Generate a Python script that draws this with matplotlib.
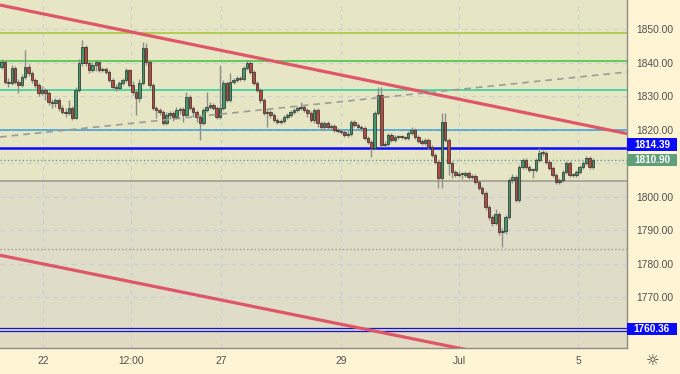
import matplotlib
matplotlib.use('Agg')
import matplotlib.pyplot as plt
from matplotlib.patches import Rectangle
from matplotlib.transforms import blended_transform_factory

# Données (XAU/USD, bougies)
first_open = 1838.7
closes = [
    1840.1, 1834.2, 1833.9, 1838.4, 1834.2, 1833.3, 1835.7, 1838.7, 1836.9, 1834.8,
    1833.3, 1830.9, 1831.8, 1830.9, 1828.2, 1827.9, 1828.8, 1826.4, 1825.2, 1824.9,
    1826.4, 1823.4, 1831.8, 1839.9, 1844.6, 1839.9, 1837.8, 1839.3, 1840.1, 1837.8,
    1838.1,
    1837.2, 1834.8, 1832.7, 1832.4, 1833.9, 1834.8, 1837.8, 1833.3, 1831.2, 1829.4,
    1833.9, 1844.3, 1840.1, 1833.3, 1826.4, 1825.8, 1825.2, 1821.9, 1824.3, 1824.9,
    1823.7, 1825.8, 1826.1, 1824.3, 1829.7, 1826.4, 1825.2, 1823.7, 1821.9, 1825.8,
    1826.7,
    1827.3, 1826.4, 1823.7, 1826.4, 1833.9, 1828.8, 1834.2, 1834.8, 1835.4, 1835.1,
    1838.4, 1839.9, 1837.2, 1833.9, 1831.8, 1828.8, 1824.9, 1825.2, 1824.3, 1822.8,
    1822.2, 1822.5, 1823.7, 1824.3, 1825.2, 1825.8, 1826.4, 1826.7, 1825.8, 1824.9,
    1822.8,
    1825.8, 1821.9, 1820.7, 1821.9, 1820.7, 1821.0, 1819.8, 1819.5, 1819.3, 1818.4,
    1818.7, 1822.2, 1821.3, 1820.7, 1820.4, 1817.5, 1816.3, 1814.5, 1824.9, 1830.3,
    1815.4, 1815.7, 1818.4, 1816.9, 1817.8, 1817.9, 1817.8, 1817.5, 1819.0, 1819.8,
    1817.8,
    1816.6, 1816.0, 1816.9, 1814.8, 1812.4, 1810.3, 1805.5, 1822.2, 1816.9, 1810.0,
    1807.3, 1806.4, 1806.7, 1806.6, 1807.0, 1805.8, 1806.1, 1804.3, 1802.5, 1801.0,
    1796.9, 1793.9, 1792.1, 1794.8, 1789.4, 1789.7, 1793.9, 1804.9, 1805.8, 1798.9,
    1808.8, 1810.9,
    1808.8, 1807.9, 1807.9, 1810.9, 1813.0, 1813.0, 1810.3, 1808.5, 1806.4, 1804.3,
    1804.9, 1807.3, 1810.0, 1806.4, 1806.4, 1807.3, 1808.8, 1810.0, 1811.5, 1808.8,
    1810.9,
]
highs = [
    1841.0, 1840.8, 1835.5, 1839.3, 1839.0, 1835.0, 1836.5, 1843.7, 1839.6, 1837.5,
    1835.4, 1833.9, 1833.0, 1832.4, 1831.5, 1829.1, 1829.4, 1829.4, 1827.3, 1826.4,
    1828.8, 1827.0, 1832.7, 1841.0, 1846.7, 1845.2, 1840.4, 1840.1, 1840.7, 1840.4,
    1838.7,
    1838.7, 1837.8, 1835.4, 1833.6, 1834.5, 1835.4, 1838.4, 1838.1, 1834.5, 1831.8,
    1835.1, 1846.1, 1845.8, 1840.7, 1833.9, 1827.0, 1826.4, 1825.8, 1825.2, 1825.5,
    1825.5, 1826.7, 1826.7, 1826.7, 1831.2, 1830.3, 1827.0, 1825.8, 1824.3, 1826.4,
    1831.2,
    1828.2, 1827.9, 1827.0, 1839.3, 1834.8, 1834.5, 1836.9, 1835.4, 1836.0, 1836.0,
    1839.0, 1840.7, 1840.7, 1837.8, 1834.5, 1832.4, 1829.4, 1826.1, 1825.8, 1824.9,
    1823.4, 1823.1, 1824.3, 1824.9, 1825.8, 1826.4, 1827.0, 1828.2, 1827.3, 1826.4,
    1825.5,
    1826.4, 1826.4, 1822.5, 1822.5, 1822.5, 1821.6, 1821.6, 1820.4, 1820.1, 1819.8,
    1819.5, 1822.8, 1822.8, 1821.9, 1821.3, 1821.0, 1818.1, 1816.9, 1825.5, 1832.7,
    1832.7, 1816.6, 1819.0, 1819.0, 1818.4, 1818.4, 1818.4, 1818.1, 1819.5, 1820.7,
    1820.4,
    1818.4, 1817.2, 1817.5, 1817.5, 1815.4, 1813.0, 1810.9, 1824.9, 1824.9, 1817.5,
    1810.6, 1807.9, 1807.6, 1807.3, 1807.6, 1807.6, 1806.7, 1806.7, 1804.9, 1803.1,
    1801.6, 1797.5, 1794.5, 1796.3, 1795.4, 1790.6, 1794.5, 1805.5, 1806.7, 1806.4,
    1809.4, 1811.5,
    1811.5, 1809.4, 1808.5, 1811.5, 1814.5, 1813.9, 1813.6, 1810.9, 1809.1, 1807.0,
    1805.5, 1807.9, 1810.6, 1810.6, 1807.0, 1807.9, 1809.4, 1810.6, 1812.1, 1812.1,
    1811.5,
]
lows = [
    1838.0, 1833.5, 1832.8, 1833.2, 1833.6, 1830.9, 1832.7, 1835.0, 1836.0, 1834.0,
    1832.4, 1830.0, 1830.2, 1828.8, 1827.3, 1826.4, 1826.7, 1825.5, 1824.6, 1823.7,
    1824.3, 1822.8, 1823.1, 1831.2, 1839.0, 1839.0, 1836.9, 1837.2, 1837.5, 1837.2,
    1837.2,
    1836.6, 1834.2, 1832.1, 1831.5, 1831.8, 1833.3, 1834.2, 1832.7, 1830.3, 1824.3,
    1828.2, 1833.3, 1839.3, 1832.4, 1825.8, 1823.4, 1824.3, 1821.3, 1821.3, 1823.1,
    1822.5, 1823.1, 1824.6, 1822.2, 1823.7, 1825.8, 1823.7, 1822.2, 1816.9, 1821.3,
    1825.2,
    1826.1, 1825.8, 1823.1, 1823.1, 1825.8, 1828.2, 1828.2, 1833.6, 1834.2, 1834.5,
    1834.5, 1837.8, 1836.6, 1833.3, 1831.2, 1827.9, 1824.3, 1820.7, 1823.4, 1822.2,
    1821.6, 1821.6, 1821.9, 1823.1, 1823.7, 1824.6, 1825.2, 1825.8, 1825.2, 1823.7,
    1822.2,
    1821.9, 1820.7, 1819.8, 1819.8, 1820.1, 1819.8, 1819.2, 1818.9, 1818.7, 1817.8,
    1817.8, 1818.1, 1820.7, 1820.1, 1819.5, 1816.9, 1815.7, 1811.8, 1814.2, 1824.3,
    1814.8, 1814.8, 1815.1, 1816.3, 1816.3, 1817.2, 1817.2, 1816.9, 1816.9, 1818.4,
    1817.2,
    1816.0, 1815.4, 1815.4, 1814.2, 1811.8, 1809.7, 1802.5, 1802.5, 1816.3, 1806.4,
    1805.5, 1805.8, 1805.8, 1805.2, 1806.0, 1805.2, 1805.2, 1803.7, 1801.9, 1800.4,
    1796.0, 1793.0, 1791.2, 1791.5, 1788.5, 1784.9, 1788.8, 1793.3, 1804.0, 1798.3,
    1798.3, 1808.2,
    1808.2, 1807.3, 1805.5, 1807.3, 1810.3, 1812.1, 1809.7, 1807.9, 1805.8, 1803.7,
    1803.7, 1804.3, 1806.7, 1805.8, 1805.8, 1805.8, 1806.7, 1808.2, 1809.4, 1808.2,
    1808.2,
]
opens = [first_open] + closes[:-1]

# niveaux horizontaux (prix, couleur, largeur, style)
levels = [
    (1848.8, "#b2cc52", 1.4, "-"),
    (1840.4, "#62c95a", 1.4, "-"),
    (1831.9, "#4fd4a4", 1.4, "-"),
    (1819.9, "#3a9fd6", 1.1, "-"),
    (1814.39, "#0a0aff", 1.8, "-"),
    (1810.90, "#6f9f7f", 1.0, ":"),
    (1804.6, "#a3a297", 1.3, "-"),
    (1784.3, "#9a9a90", 1.0, ":"),
    (1760.75, "#1212d8", 0.9, "-"),
    (1759.8, "#1212d8", 0.9, "-"),
]
# lignes de tendance : (x0, y0, x1, y1)
channel_top = (-0.5, 1857.2, 186.1, 1818.8)
channel_bot = (-0.5, 1782.5, 186.1, 1744.6)
dashed_trend = (-0.5, 1817.8, 186.1, 1837.2)

grid_prices = [1770, 1780, 1790, 1800, 1810, 1820, 1830, 1840, 1850]
# 1810 est masqué par l'étiquette du dernier prix
y_ticks = [1770, 1780, 1790, 1800, 1820, 1830, 1840, 1850]
x_tick_pos = [12.3, 38.5, 65.3, 101.0, 136.1, 171.5]
x_tick_lab = ["22", "12:00", "27", "29", "Jul", "5"]
price_tags = [
    (1815.5, "1814.39", "#0a0aff"),
    (1810.9, "1810.90", "#5f9f7a"),
    (1760.5, "1760.36", "#0a0aff"),
]

plt.rcParams['font.family'] = ['Liberation Sans', 'DejaVu Sans']

fig = plt.figure(figsize=(6.8, 3.74), dpi=100, facecolor="#fff4d4")
ax = fig.add_axes([0, 26 / 374, 627 / 680, 348 / 374])
ax.set_xlim(-0.5, 186.1)
ax.set_ylim(1754.8, 1858.7)

# fonds
ax.set_facecolor("#dfdcc8")
ax.axhspan(1804.6, 1858.7, color="#e7e6c4", zorder=0)
ax.axhspan(1754.8, 1759.8, color="#e2dbc3", zorder=0)

# grille
for yv in grid_prices:
    ax.axhline(yv, color="#c8cfd8", lw=0.8, ls=(0, (4, 4)), zorder=1)
for xv in x_tick_pos:
    ax.axvline(xv, color="#c8cfd8", lw=0.8, ls=(0, (4, 4)), zorder=1)

for p, col, lw, ls in levels:
    ax.axhline(p, color=col, lw=lw, ls=ls, zorder=2)

# bougies
xs = list(range(len(closes)))
ax.vlines(xs, lows, highs, color="#8e8e8a", lw=1.0, zorder=3)
up = [c >= o for o, c in zip(opens, closes)]
body_cols = ["#3f9a6e" if u else "#b54a3f" for u in up]
heights = [c - o if abs(c - o) > 0.15 else 0.3 for o, c in zip(opens, closes)]
ax.bar(xs, heights, bottom=opens, width=0.74, color=body_cols,
       edgecolor="#2a2a26", linewidth=0.5, zorder=4)

# tendances
for x0, y0, x1, y1 in (channel_top, channel_bot):
    ax.plot([x0, x1], [y0, y1], color="#de5668", lw=2.3, zorder=5,
            solid_capstyle="butt")
x0, y0, x1, y1 = dashed_trend
ax.plot([x0, x1], [y0, y1], color="#9c9c96", lw=1.2, ls=(0, (4, 3)), zorder=5)

# axes
for s in ("top", "left"):
    ax.spines[s].set_visible(False)
for s in ("right", "bottom"):
    ax.spines[s].set_color("#8c8c88")
    ax.spines[s].set_linewidth(1.0)
ax.yaxis.tick_right()
ax.set_yticks(y_ticks)
ax.set_yticklabels([f"{v:.2f}" for v in y_ticks])
ax.set_xticks(x_tick_pos)
ax.set_xticklabels(x_tick_lab)
ax.tick_params(axis="y", length=0, pad=7, labelsize=7.4, labelcolor="#505050")
ax.tick_params(axis="x", length=0, pad=6, labelsize=7.4, labelcolor="#505050")

# étiquettes de prix
tr = blended_transform_factory(ax.transAxes, ax.transData)
for p, txt, col in price_tags:
    ax.add_patch(Rectangle((1.0, p - 1.85), 50 / 627, 3.7, transform=tr,
                           facecolor=col, edgecolor="none", clip_on=False, zorder=6))
    ax.text(1.0 + 25 / 627, p, txt, transform=tr, ha="center", va="center",
            color="white", fontsize=7.2, fontweight="bold", zorder=7, clip_on=False)

fig.text(653 / 680, 1 - 361 / 374, "\u263c", ha="center", va="center",
         fontsize=11, color="#333333", family="DejaVu Sans")

fig.savefig("out.png", dpi=100, facecolor=fig.get_facecolor())
